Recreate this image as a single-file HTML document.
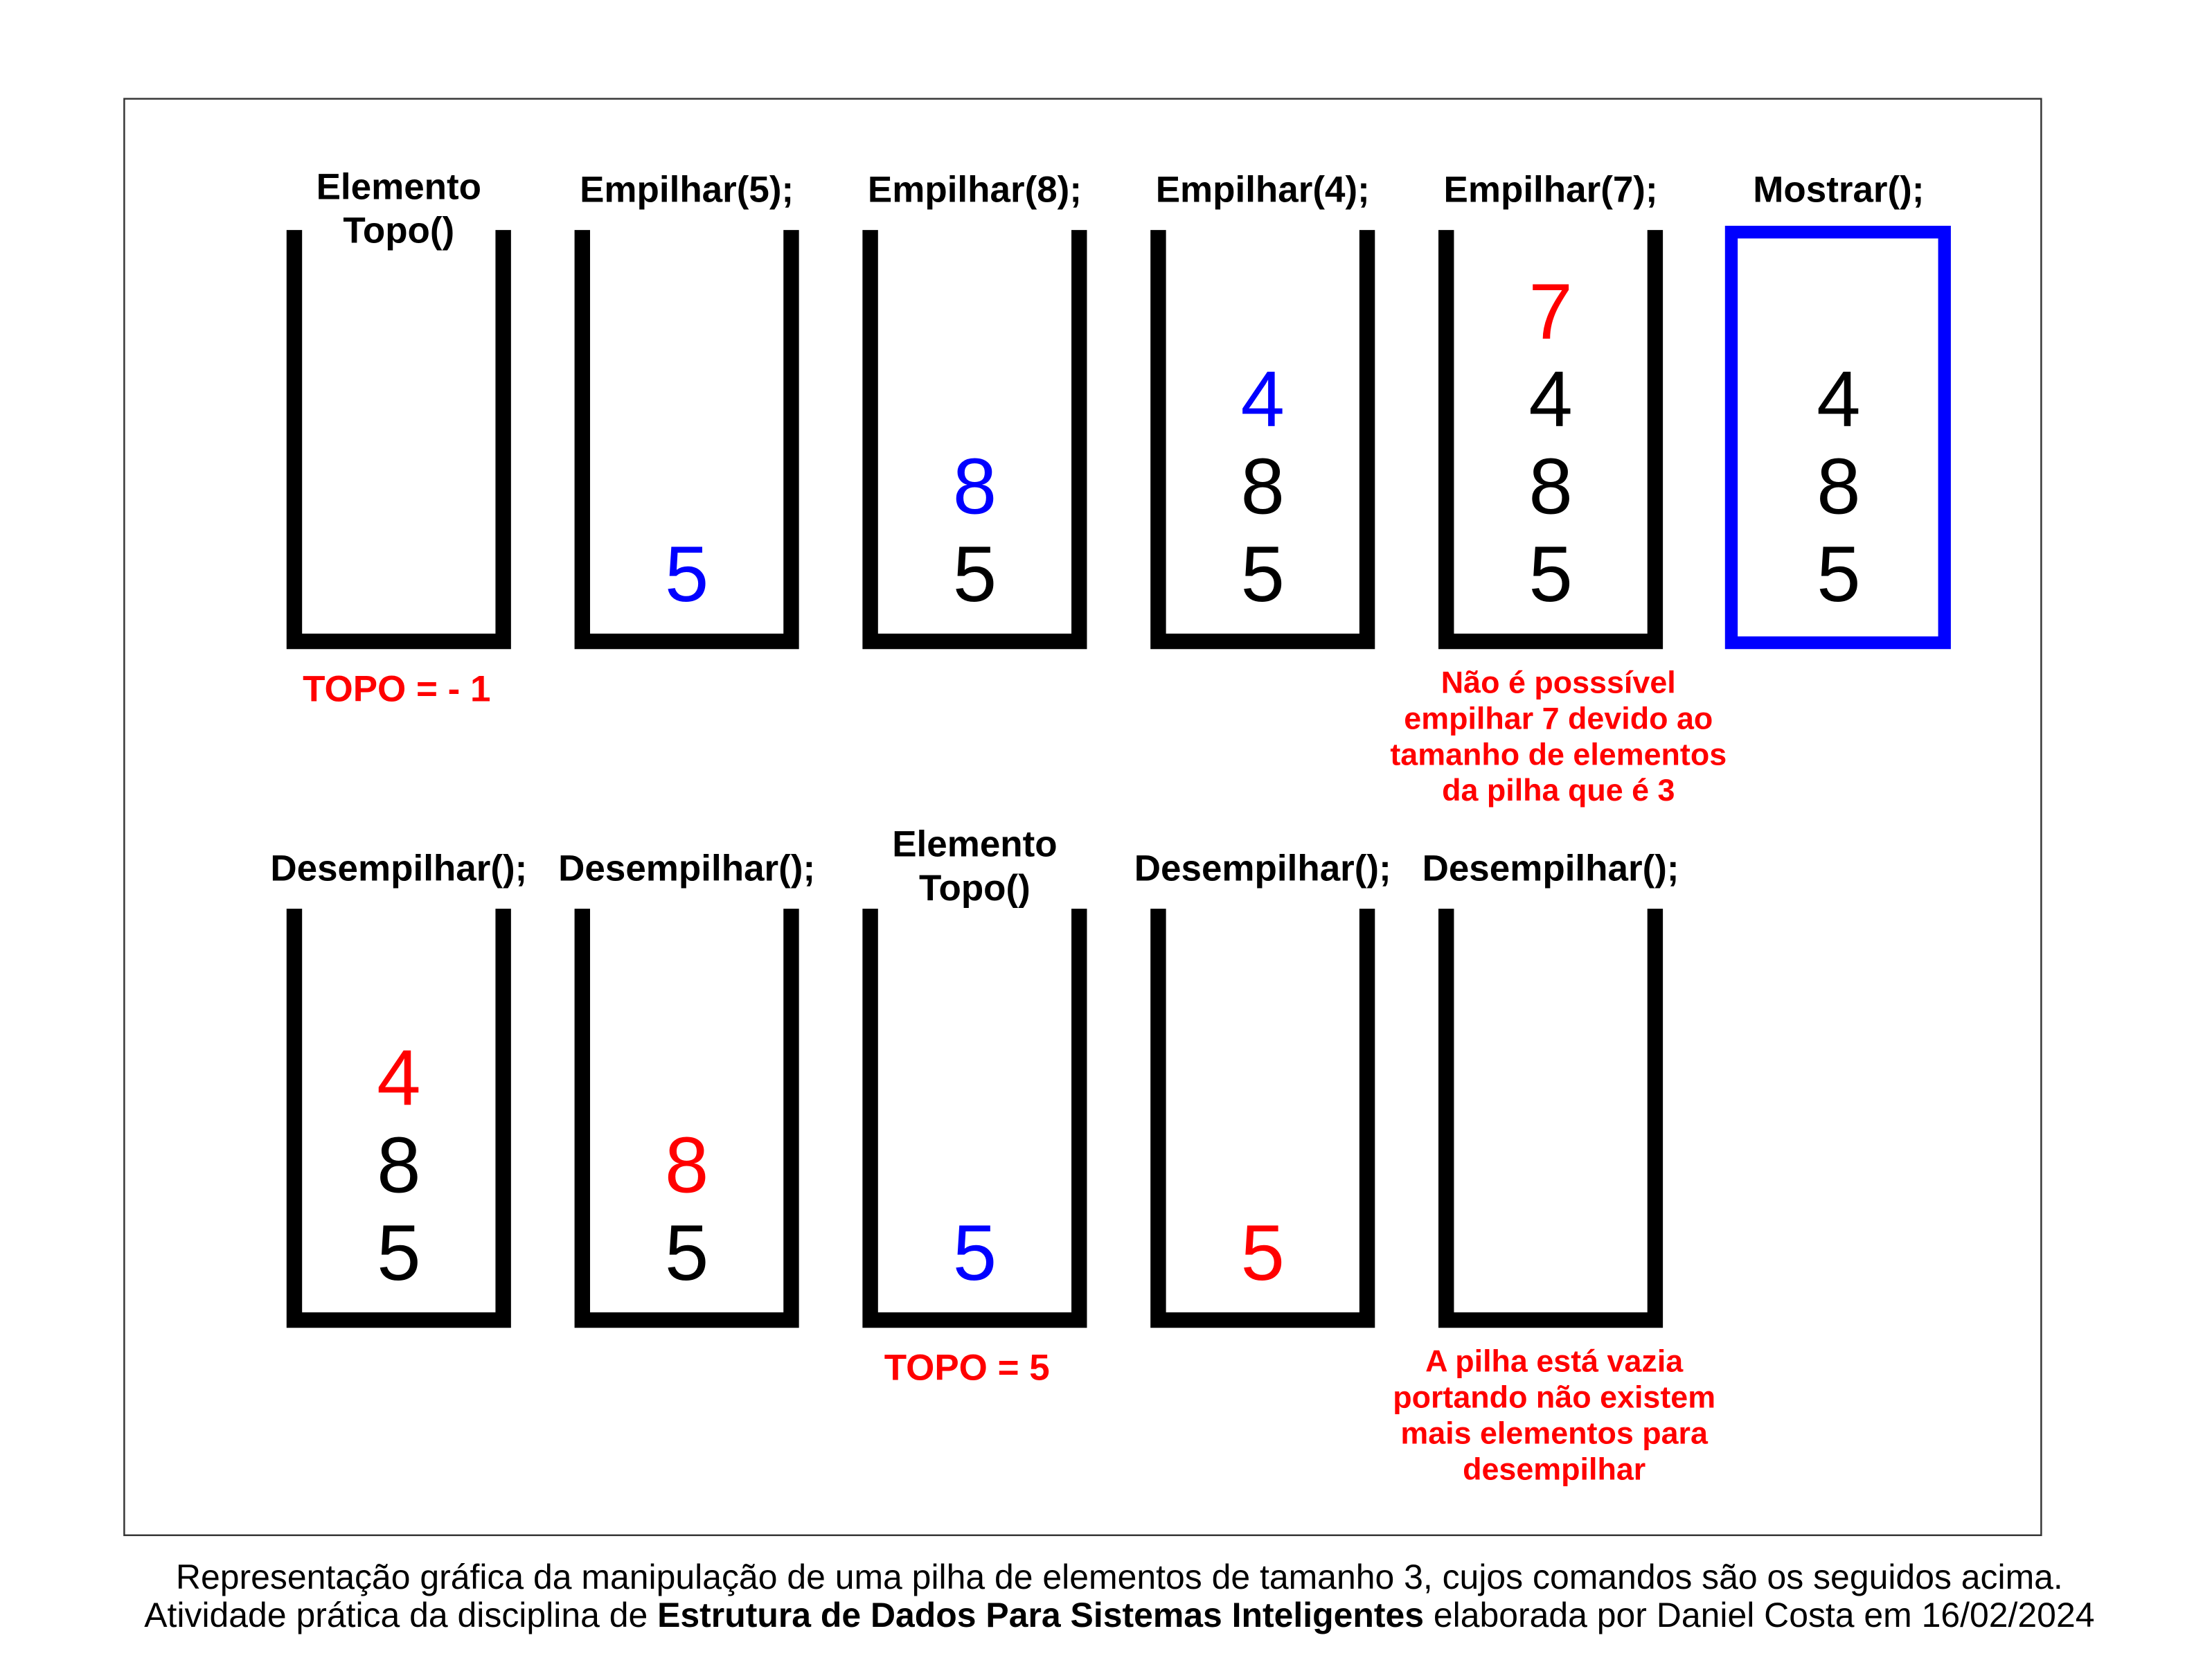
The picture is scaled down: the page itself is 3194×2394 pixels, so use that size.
<!DOCTYPE html>
<html><head><meta charset="utf-8">
<style>
html,body{margin:0;padding:0;background:#fff;}
svg{display:block;}
text{font-family:"Liberation Sans",Arial,sans-serif;}
</style></head>
<body>
<svg id="chart" width="3194" height="2394" viewBox="0 0 1567 1175" preserveAspectRatio="none" xmlns="http://www.w3.org/2000/svg">
<rect x="88" y="70" width="1358" height="1018" fill="none" stroke="#333" stroke-width="1.2"/>
<g id="g"></g>
<text x="793" y="1126" text-anchor="middle" font-size="24.5" fill="#000">Representação gráfica da manipulação de uma pilha de elementos de tamanho 3, cujos comandos são os seguidos acima.</text>
<text x="793" y="1153" text-anchor="middle" font-size="24.5" fill="#000">Atividade prática da disciplina de <tspan font-weight="bold">Estrutura de Dados Para Sistemas Inteligentes</tspan> elaborada por Daniel Costa em 16/02/2024</text>
</svg>
<script>
// data
const row1Headers = [["Elemento","Topo()"],["Empilhar(5);"],["Empilhar(8);"],["Empilhar(4);"],["Empilhar(7);"],["Mostrar();"]];
const row1Stacks = [[],[5],[5,8],[5,8,4],[5,8,4,7],[5,8,4]];
const row1Colors = [[],["b"],["k","b"],["k","k","b"],["k","k","k","r"],["k","k","k"]];
const row2Headers = [["Desempilhar();"],["Desempilhar();"],["Elemento","Topo()"],["Desempilhar();"],["Desempilhar();"]];
const row2Stacks = [[5,8,4],[5,8],[5],[5],[]];
const row2Colors = [["k","k","r"],["k","r"],["b"],["r"],[]];
const colorMap = {k:"#000",b:"#0000ff",r:"#ff0000"};
const NS = "http://www.w3.org/2000/svg";
const g = document.getElementById('g');
function mk(tag, attrs, txt){
  const e = document.createElementNS(NS, tag);
  for (const k in attrs) e.setAttribute(k, attrs[k]);
  if (txt !== undefined) e.textContent = txt;
  g.appendChild(e); return e;
}
function colX(i){ return 282.5 + i*204; }
function levelY(rowBase, lvl){ return rowBase - lvl*62; }
function drawRow(headers, stacks, colors, top, headerY, twoLineY, numBase, rowIdx){
  headers.forEach((h, i) => {
    const cx = colX(i);
    const lines = h.length;
    h.forEach((t, j) => {
      const y = lines === 2 ? twoLineY + j*31 : headerY;
      const e = mk('text', {x: cx, y: y, 'text-anchor':'middle','font-size':26,'font-weight':'bold'}, t);
      
      
    });
    let c;
    if (rowIdx === 1 && i === 5) {
      c = mk('rect', {x: cx-76, y:164.5, width:151, height:291, fill:'none', stroke:'#0000ff','stroke-width':9});
      
    } else {
      c = mk('path', {d:`M${cx-74},${top} V${top+291.5} H${cx+74} V${top}`, fill:'none', stroke:'#000','stroke-width':11});
      
    }
    
    stacks[i].forEach((v, k) => {
      const e = mk('text', {x: cx, y: levelY(numBase, k), 'text-anchor':'middle','font-size':56, fill: colorMap[colors[i][k]]}, String(v));
      
      
    });
  });
}
drawRow(row1Headers, row1Stacks, row1Colors, 163, 143, 141, 426, 1);
drawRow(row2Headers, row2Stacks, row2Colors, 644, 624, 607, 907, 2);
function note(lines, cx, y0, fs, name){
  lines.forEach((t, j) => {
    const e = mk('text', {x: cx, y: y0 + j*25.5, 'text-anchor':'middle','font-size':fs,'font-weight':'bold',fill:'#ff0000'}, t);
    
    
  });
}
note(["TOPO = - 1"], 281, 497, 26, 'topo-minus-one');
note(["TOPO = 5"], 685, 978, 26, 'topo-five');
note(["Não é posssível","empilhar 7 devido ao","tamanho de elementos","da pilha que é 3"], 1104, 491, 22, 'overflow-note');
note(["A pilha está vazia","portando não existem","mais elementos para","desempilhar"], 1101, 972, 22, 'empty-note');
</script>
</body></html>
